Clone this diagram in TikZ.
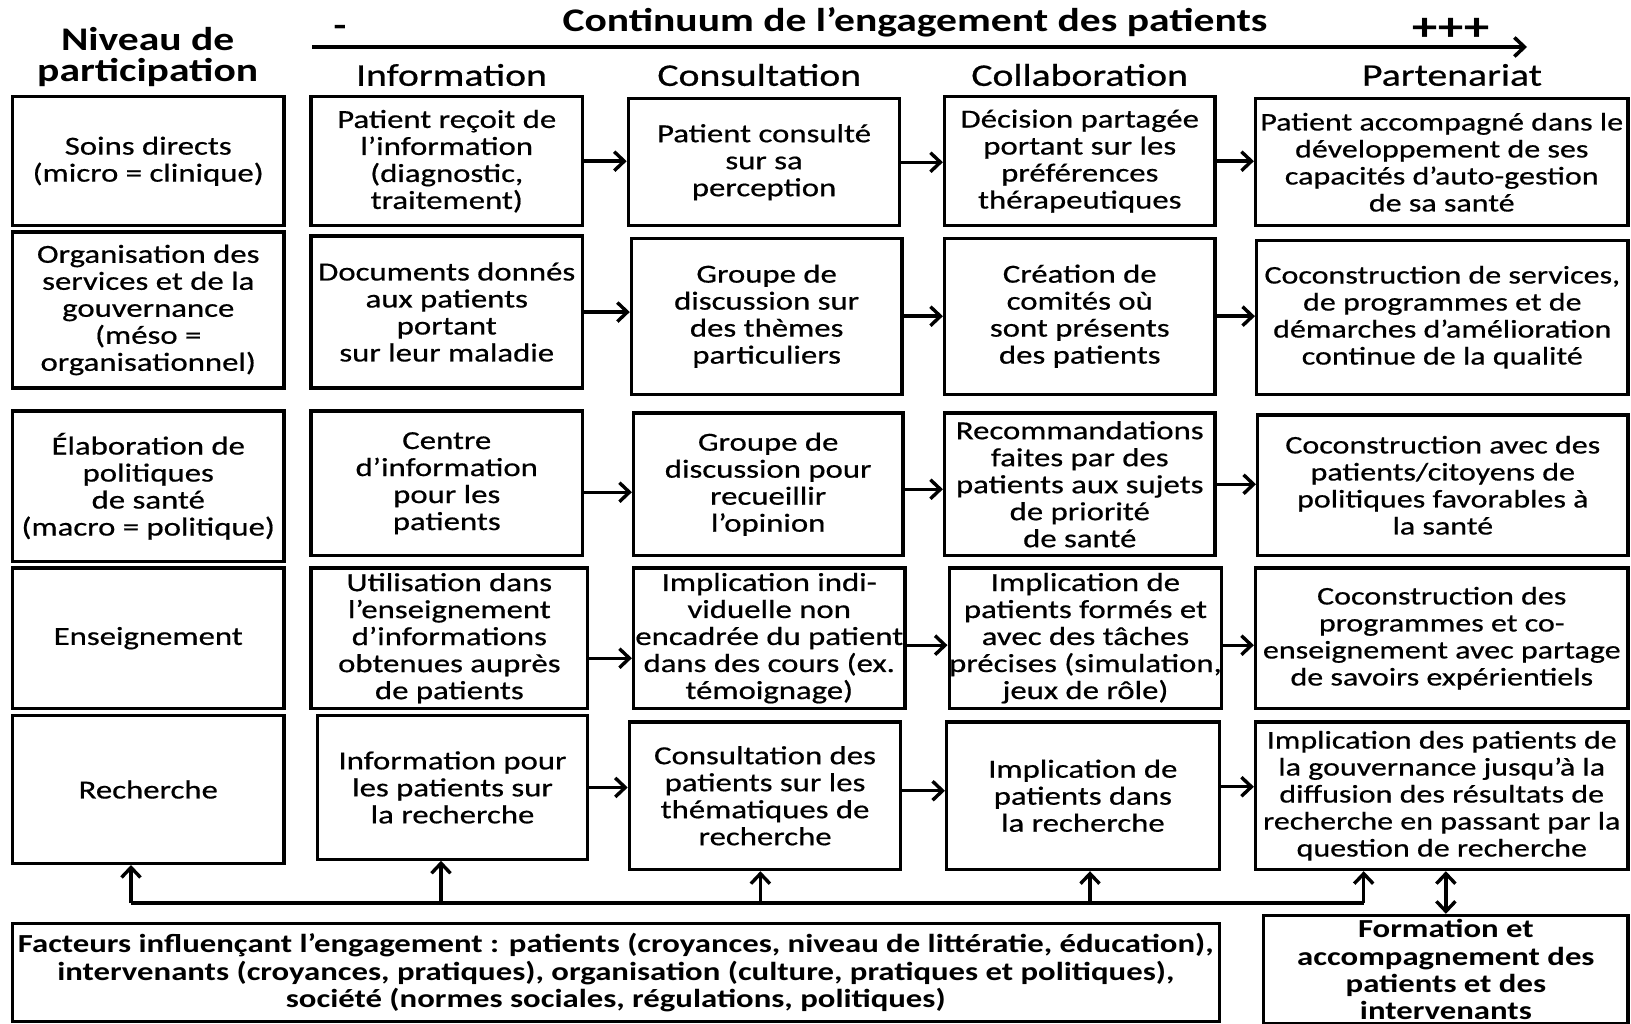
\documentclass[tikz,border=0pt]{standalone}
\usepackage{fontspec}
\setmainfont{Carlito}[FakeStretch=1.26, UprightFeatures={FakeBold=0.6}]
\usetikzlibrary{arrows.meta}
\tikzset{
  box/.style={draw, line width=3.2pt, align=center, inner sep=0pt,
    font=\fontsize{26}{27}\selectfont},
  boxw/.style={box, font=\fontsize{25.4}{27}\selectfont},
  bbox/.style={box, font=\bfseries\fontsize{26}{27.4}\selectfont},
  tip/.tip={Straight Barb[length=10pt,width=19pt]},
  arr/.style={line width=3.4pt, -tip},
  dblarr/.style={line width=3.4pt, tip-tip},
  colhead/.style={font=\fontsize{31.5}{33}\selectfont, inner sep=0pt},
  bighead/.style={font=\bfseries\fontsize{33}{31.5}\selectfont, inner sep=0pt, align=center},
}
\newcommand\mybx[7][box]{\node[#1, minimum width={(#5-#3)*1pt}, minimum height={(#6-#4)*1pt}] (#2) at ({(#3+#5)/2},{(#4+#6)/2}) {#7};}
\begin{document}
\begin{tikzpicture}[x=1pt,y=-1pt]
\fill[white] (0,0) rectangle (1631,1024);
\useasboundingbox (0,0) rectangle (1631,1024);

% top headings
\node[bighead] (title) at (915,22) {Continuum de l’engagement des patients};
\node[bighead] (minus) at (340,31) {-};
\node[bighead, font=\bfseries\fontsize{40}{40}\selectfont] (plus) at (1451,29) {+++};
\coordinate (as) at (312,47);
\coordinate (ae) at (1527,47);
\draw[arr, line width=3.6pt] (as) -- (ae);
\node[bighead] (niv) at (147.7,57) {Niveau de\\participation};
\node[colhead] (h1) at (451.5,75) {Information};
\node[colhead] (h2) at (759.3,75) {Consultation};
\node[colhead] (h3) at (1079.7,75) {Collaboration};
\node[colhead] (h4) at (1452,75) {Partenariat};

% row 1
\mybx{r1c0}{12.5}{96.7}{284}{225.7}{Soins directs\\(micro = clinique)}
\mybx{r1c1}{311}{96.7}{582.5}{225.7}{Patient reçoit de\\l’information\\(diagnostic,\\traitement)}
\mybx{r1c2}{628.3}{98.8}{899.8}{225.7}{Patient consulté\\sur sa\\perception}
\mybx{r1c3}{944.5}{96.7}{1215}{225.7}{Décision partagée\\portant sur les\\préférences\\thérapeutiques}
\mybx[boxw]{r1c4}{1255.5}{98.8}{1628}{225.7}{Patient accompagné dans le\\développement de ses\\capacités d’auto-gestion\\de sa santé}

% row 2
\mybx{r2c0}{12.5}{232}{284}{388}{Organisation des\\services et de la\\gouvernance\\(méso =\\organisationnel)}
\mybx{r2c1}{311}{236.1}{582.5}{388}{Documents donnés\\aux patients\\portant\\sur leur maladie}
\mybx{r2c2}{631.4}{238.2}{901.9}{394.2}{Groupe de\\discussion sur\\des thèmes\\particuliers}
\mybx{r2c3}{944.5}{238.2}{1215}{394.2}{Création de\\comités où\\sont présents\\des patients}
\mybx[boxw]{r2c4}{1256.6}{240.3}{1628}{394.2}{Coconstruction de services,\\de programmes et de\\démarches d’amélioration\\continue de la qualité}

% row 3
\mybx{r3c0}{12.5}{410.9}{284}{561.7}{Élaboration de\\politiques\\de santé\\(macro = politique)}
\mybx{r3c1}{311}{410.9}{582.5}{555.5}{Centre\\d’information\\pour les\\patients}
\mybx{r3c2}{633.5}{413}{902.9}{555.5}{Groupe de\\discussion pour\\recueillir\\l’opinion}
\mybx{r3c3}{944.5}{413}{1215}{555.5}{Recommandations\\faites par des\\patients aux sujets\\de priorité\\de santé}
\mybx[boxw]{r3c4}{1257.6}{415}{1628}{555.5}{Coconstruction avec des\\patients/citoyens de\\politiques favorables à\\la santé}

% row 4
\mybx{r4c0}{12.5}{568}{284}{708.4}{Enseignement}
\mybx{r4c1}{311}{568}{587.7}{708.4}{Utilisation dans\\l’enseignement\\d’informations\\obtenues auprès\\de patients}
\mybx{r4c2}{633.5}{568}{905}{708.4}{Implication indi-\\viduelle non\\encadrée du patient\\dans des cours (ex.\\témoignage)}
\mybx{r4c3}{949.7}{568}{1221.2}{708.4}{Implication de\\patients formés et\\avec des tâches\\précises (simulation,\\jeux de rôle)}
\mybx[boxw]{r4c4}{1255.5}{568}{1628}{708.4}{Coconstruction des\\programmes et co-\\enseignement avec partage\\de savoirs expérientiels}

% row 5
\mybx{r5c0}{12.5}{715.7}{284}{863.4}{Recherche}
\mybx{r5c1}{317.3}{715.7}{587.7}{859.2}{Information pour\\les patients sur\\la recherche}
\mybx{r5c2}{629.3}{721.9}{900.8}{869.6}{Consultation des\\patients sur les\\thématiques de\\recherche}
\mybx{r5c3}{946.6}{721.9}{1219.1}{869.6}{Implication de\\patients dans\\la recherche}
\mybx[boxw]{r5c4}{1255.5}{721.9}{1628}{869.6}{Implication des patients de\\la gouvernance jusqu’à la\\diffusion des résultats de\\recherche en passant par la\\question de recherche}

% bottom boxes
\mybx[bbox]{fact}{12.5}{923.7}{1219.1}{1021.5}{Facteurs influençant l’engagement : patients (croyances, niveau de littératie, éducation),\\intervenants (croyances, pratiques), organisation (culture, pratiques et politiques),\\société (normes sociales, régulations, politiques)}
\mybx[bbox]{form}{1263.8}{915.4}{1628}{1024}{Formation et\\accompagnement des\\patients et des\\intervenants}

% horizontal arrows
\draw[arr] (r1c1.east) -- (r1c1.east -| r1c2.west);
\draw[arr] (r1c2.east) -- (r1c2.east -| r1c3.west);
\draw[arr] (r1c3.east) -- (r1c3.east -| r1c4.west);
\draw[arr] (r2c1.east) -- (r2c1.east -| r2c2.west);
\draw[arr] (r2c2.east) -- (r2c2.east -| r2c3.west);
\draw[arr] (r2c3.east) -- (r2c3.east -| r2c4.west);
\draw[arr] ([yshift=-9pt]r3c1.east) -- ([yshift=-9pt]r3c1.east -| r3c2.west);
\draw[arr] ([yshift=-5pt]r3c2.east) -- ([yshift=-5pt]r3c2.east -| r3c3.west);
\draw[arr] (r3c3.east) -- (r3c3.east -| r3c4.west);
\draw[arr] ([yshift=-20pt]r4c1.east) -- ([yshift=-20pt]r4c1.east -| r4c2.west);
\draw[arr] ([yshift=-7pt]r4c2.east) -- ([yshift=-7pt]r4c2.east -| r4c3.west);
\draw[arr] ([yshift=-7pt]r4c3.east) -- ([yshift=-7pt]r4c3.east -| r4c4.west);
\draw[arr] (r5c1.east) -- (r5c1.east -| r5c2.west);
\draw[arr] ([yshift=5pt]r5c2.east) -- ([yshift=5pt]r5c2.east -| r5c3.west);
\draw[arr] ([yshift=9pt]r5c3.east) -- ([yshift=9pt]r5c3.east -| r5c4.west);

% bottom feedback connector
\coordinate (j0) at (131,903);
\coordinate (j1) at (441,903);
\coordinate (j2) at (760.4,903);
\coordinate (j3) at (1090,903);
\coordinate (j4) at (1363.7,903);
\draw[line width=3.2pt] (j0) -- (j4);
\draw[arr] (j0) -- (j0 |- r5c0.south);
\draw[arr] (j1) -- (j1 |- r5c1.south);
\draw[arr] (j2) -- (j2 |- r5c2.south);
\draw[arr] (j3) -- (j3 |- r5c3.south);
\draw[arr] (j4) -- (j4 |- r5c4.south);
\draw[dblarr] (form.north) -- (form.north |- r5c4.south);
\end{tikzpicture}
\end{document}
